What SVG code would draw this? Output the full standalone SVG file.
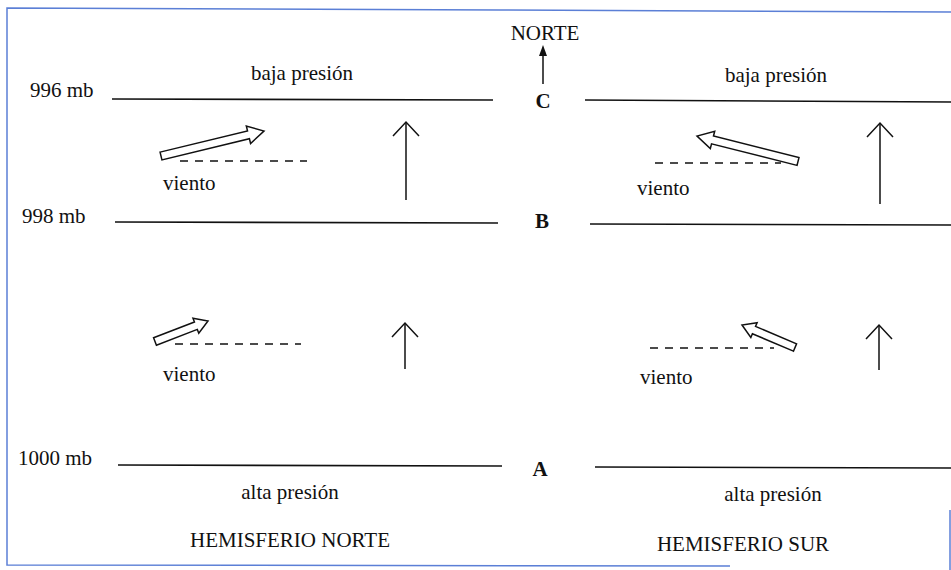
<svg xmlns="http://www.w3.org/2000/svg" width="951" height="570" viewBox="0 0 951 570">
<style>
.t{font-family:"Liberation Serif","Times New Roman","Nimbus Roman","DejaVu Serif",serif;font-size:21px;fill:#111}
.c{text-anchor:middle}
.b{font-weight:bold}
.iso{stroke:#111;stroke-width:1.6;fill:none}
.dash{stroke:#111;stroke-width:1.4;stroke-dasharray:8 7;fill:none}
.arr{stroke:#111;stroke-width:1.5;fill:none;stroke-linejoin:miter}
.wind{stroke:#111;stroke-width:1.5;fill:#fff;stroke-linejoin:miter}
.frame{stroke:#5b7fd6;stroke-width:1.5;fill:none}
</style>
<rect width="951" height="570" fill="#fff"/>
<g id="frame">
<polyline class="frame" points="951,12 500,10 7,8 7,565 730,566"/>
<line class="frame" x1="950" y1="510" x2="950" y2="570"/>
</g>
<g id="isobars">
<line class="iso" x1="112" y1="99" x2="493" y2="100"/>
<line class="iso" x1="585" y1="100" x2="951" y2="102"/>
<line class="iso" x1="115" y1="222" x2="498" y2="223"/>
<line class="iso" x1="590" y1="224" x2="951" y2="225"/>
<line class="iso" x1="118" y1="465" x2="502" y2="466"/>
<line class="iso" x1="595" y1="467" x2="951" y2="468"/>
</g>
<g id="labels">
<text class="t" x="30" y="97">996 mb</text>
<text class="t" x="22" y="223">998 mb</text>
<text class="t" x="18" y="465">1000 mb</text>
<text class="t c" x="545" y="40">NORTE</text>
<text class="t c b" x="543" y="108">C</text>
<text class="t c b" x="542" y="228">B</text>
<text class="t c b" x="540" y="476">A</text>
<text class="t c" x="302" y="80">baja presión</text>
<text class="t c" x="776" y="82">baja presión</text>
<text class="t c" x="290" y="499">alta presión</text>
<text class="t c" x="773" y="501">alta presión</text>
<text class="t c" x="290" y="547">HEMISFERIO NORTE</text>
<text class="t c" x="743" y="551">HEMISFERIO SUR</text>
</g>
<g id="wind-nh-upper">
<polygon class="wind" points="160.06,152.11 247.5,130.88 246.33,126.02 264,131 250.57,143.52 249.4,138.66 161.94,159.89"/>
<line class="dash" x1="180" y1="161" x2="307" y2="161"/>
<text class="t" x="163" y="190">viento</text>
</g>
<g id="wind-nh-lower">
<polygon class="wind" points="153.56,337.77 194.44,321.96 192.99,318.23 208,321 198.77,333.15 197.32,329.42 156.44,345.23"/>
<line class="dash" x1="175" y1="344" x2="301" y2="344"/>
<text class="t" x="163" y="381">viento</text>
</g>
<g id="wind-sh-upper">
<polygon class="wind" points="797.02,165.38 711.53,143.8 710.31,148.65 697,136 714.71,131.19 713.49,136.04 798.98,157.62"/>
<line class="dash" x1="655" y1="163" x2="781" y2="163"/>
<text class="t" x="637" y="195">viento</text>
</g>
<g id="wind-sh-lower">
<polygon class="wind" points="793.44,351.18 752.41,333.76 750.84,337.44 742,325 757.1,322.72 755.53,326.4 796.56,343.82"/>
<line class="dash" x1="650" y1="348" x2="774" y2="348"/>
<text class="t" x="640" y="384">viento</text>
</g>
<g id="connectors">
<line class="arr" x1="543" y1="84" x2="543" y2="48"/>
<polygon points="543,45 539,56 547,56" fill="#111"/>
<polyline class="arr" points="406,200 406,122"/>
<polyline class="arr" points="393,136 406,122 419,136"/>
<polyline class="arr" points="405,369 405,323"/>
<polyline class="arr" points="392,337 405,323 418,337"/>
<polyline class="arr" points="880,204 880,123"/>
<polyline class="arr" points="867,137 880,123 893,137"/>
<polyline class="arr" points="879,370 879,325"/>
<polyline class="arr" points="866,339 879,325 892,339"/>
</g>
</svg>
